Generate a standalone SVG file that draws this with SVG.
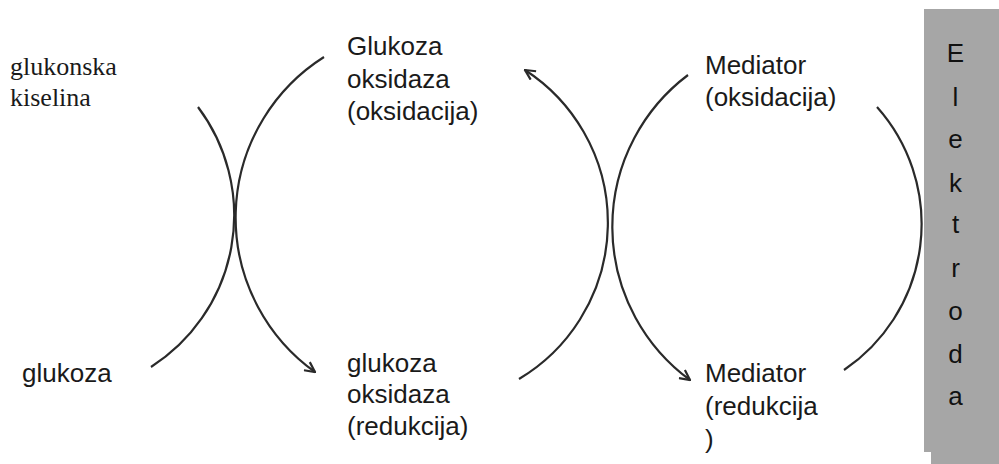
<svg xmlns="http://www.w3.org/2000/svg" width="999" height="464" viewBox="0 0 999 464">
<defs>
<style>
.sans{font-family:"Liberation Sans",Arial,sans-serif;font-size:26px;fill:#1a1a1a}
.serif{font-family:"Liberation Serif","Times New Roman",serif;font-size:26px;fill:#1a1a1a}
.arc{fill:none;stroke:#2a2a2a;stroke-width:2.2}
.el{font-family:"Liberation Sans",Arial,sans-serif;font-size:26px;fill:#111;text-anchor:middle}
</style>
<marker id="ah" viewBox="0 0 12 12" refX="11" refY="6" markerWidth="12" markerHeight="12" markerUnits="userSpaceOnUse" orient="auto">
<path d="M1,1 L11,6 L1,11" fill="none" stroke="#2a2a2a" stroke-width="2.2"/>
</marker>
</defs>
<rect width="999" height="464" fill="#ffffff"/>
<g id="elektroda">
<rect x="924" y="9" width="75" height="443" fill="#a6a6a6"/>
<rect x="931" y="450" width="68" height="14" fill="#a6a6a6"/>
<text class="el" x="955.5" y="62">E</text>
<text class="el" x="955.5" y="106">l</text>
<text class="el" x="955.5" y="148">e</text>
<text class="el" x="955.5" y="192">k</text>
<text class="el" x="955.5" y="233">t</text>
<text class="el" x="955.5" y="277">r</text>
<text class="el" x="955.5" y="320">o</text>
<text class="el" x="955.5" y="363">d</text>
<text class="el" x="955.5" y="405">a</text>
</g>
<g id="glukonska-kiselina">
<text class="serif" x="10" y="75">glukonska</text>
<text class="serif" x="10" y="106">kiselina</text>
</g>
<g id="glukoza">
<text class="sans" x="22" y="382">glukoza</text>
</g>
<g id="gox-oksidacija">
<text class="sans" x="347" y="55">Glukoza</text>
<text class="sans" x="347" y="88">oksidaza</text>
<text class="sans" x="347" y="120">(oksidacija)</text>
</g>
<g id="gox-redukcija">
<text class="sans" x="347" y="372">glukoza</text>
<text class="sans" x="347" y="403">oksidaza</text>
<text class="sans" x="347" y="435">(redukcija)</text>
</g>
<g id="mediator-oksidacija">
<text class="sans" x="705" y="74">Mediator</text>
<text class="sans" x="705" y="106">(oksidacija)</text>
</g>
<g id="mediator-redukcija">
<text class="sans" x="705" y="382">Mediator</text>
<text class="sans" x="705" y="415">(redukcija</text>
<text class="sans" x="705" y="448">)</text>
</g>
<g id="connectors">
<path class="arc" d="M198 107 A180 180 0 0 1 151 367"/>
<path class="arc" d="M324 57 A190 190 0 0 0 315 372" marker-end="url(#ah)"/>
<path class="arc" d="M519 379 A182 182 0 0 0 525 70" marker-end="url(#ah)"/>
<path class="arc" d="M688 75 A190 190 0 0 0 690 380" marker-end="url(#ah)"/>
<path class="arc" d="M877 107 A176 176 0 0 1 844 370"/>
</g>
</svg>
